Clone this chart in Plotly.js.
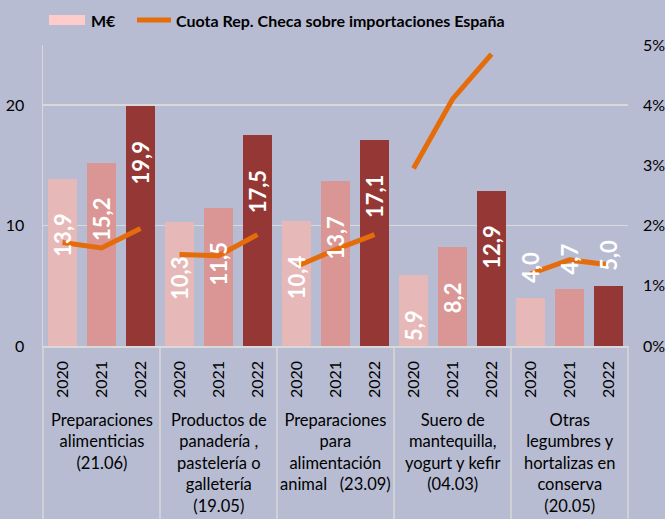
<!DOCTYPE html>
<html>
<head>
<meta charset="utf-8">
<script src="https://cdn.plot.ly/plotly-3.0.1.min.js"></script>
<style>html,body{margin:0;padding:0;background:#b7bcd2;}</style>
</head>
<body>
<div id="chart" style="width:665px;height:519px;"></div>
<script>
// ---- data ----
var groups = [
  'Preparaciones<br>alimenticias<br>(21.06)',
  'Productos de<br>panadería ,<br>pastelería o<br>galletería<br>(19.05)',
  'Preparaciones<br>para<br>alimentación<br>animal&nbsp;&nbsp;&nbsp;(23.09)',
  'Suero de<br>mantequilla,<br>yogurt y kefir<br>(04.03)',
  'Otras<br>legumbres y<br>hortalizas en<br>conserva<br>(20.05)'
];
var years = ['2020', '2021', '2022'];
var m2020 = [13.9, 10.3, 10.4, 5.9, 4.0];
var m2021 = [15.2, 11.5, 13.7, 8.2, 4.7];
var m2022 = [19.9, 17.5, 17.1, 12.9, 5.0];
// share of Czech Rep. in Spanish imports (%)
var cuota2020 = [1.72, 1.52, 1.32, 2.95, 1.20];
var cuota2021 = [1.63, 1.50, 1.60, 4.10, 1.43];
var cuota2022 = [1.95, 1.85, 1.85, 4.85, 1.35];

// ---- styling ----
var FONT = 'Lato, "Open Sans", sans-serif';
var BG = '#b7bcd2';
var barColors = ['#e6b9b8', '#d99694', '#953735'];
var ORANGE = '#e46c0a';
var GRID = '#d9d9d9';
var W = 665, H = 519, ML = 43, MR = 37, MT = 45, MB = 173;
var PW = W - ML - MR, PH = H - MT - MB;
function px(x) { return (x - ML) / PW; }
function py(y) { return (H - MB - y) / PH; }

var nG = groups.length, nY = years.length;
var series = [m2020, m2021, m2022];
var cuotas = [cuota2020, cuota2021, cuota2022];
var traces = [];
var annotations = [];

series.forEach(function (vals, yi) {
  var xs = vals.map(function (v, g) { return g * nY + yi; });
  traces.push({
    type: 'bar', x: xs, y: vals, width: 0.72,
    marker: { color: barColors[yi], line: { width: 0 } },
    showlegend: false, hoverinfo: 'y', name: years[yi]
  });
  vals.forEach(function (v, g) {
    var inside = v > 5.5;
    annotations.push({
      xref: 'x', yref: 'y', x: g * nY + yi, y: v,
      text: v.toFixed(1).replace('.', ','),
      textangle: -90, showarrow: false,
      xanchor: 'center', yanchor: inside ? 'top' : 'bottom',
      yshift: inside ? -33 : 13,
      font: { family: FONT, size: 22, color: '#ffffff', weight: 'bold' }
    });
  });
});

for (var g = 0; g < nG; g++) {
  traces.push({
    type: 'scatter', mode: 'lines', yaxis: 'y2',
    x: years.map(function (y, yi) { return g * nY + yi; }),
    y: cuotas.map(function (c) { return c[g]; }),
    line: { color: ORANGE, width: 5 },
    showlegend: false, hoverinfo: 'y'
  });
  annotations.push({
    xref: 'x', yref: 'paper', x: g * nY + 1, y: 0, yshift: -62,
    xanchor: 'center', yanchor: 'top', align: 'center',
    text: groups[g], showarrow: false,
    font: { family: FONT, size: 16.5, color: '#000000' }
  });
}

var shapes = [];
for (var k = 0; k <= nG; k++) {
  shapes.push({
    type: 'line', xref: 'paper', yref: 'paper',
    x0: k / nG, x1: k / nG, y0: 0, y1: py(H + 2),
    line: { color: GRID, width: 1.5 }
  });
}
// custom legend
shapes.push({ type: 'rect', xref: 'paper', yref: 'paper',
  x0: px(49), x1: px(85), y0: py(25), y1: py(15),
  fillcolor: '#ffcccc', line: { width: 0 } });
shapes.push({ type: 'line', xref: 'paper', yref: 'paper',
  x0: px(137), x1: px(171), y0: py(20), y1: py(20),
  line: { color: ORANGE, width: 5 } });
annotations.push({ xref: 'paper', yref: 'paper', x: px(89), y: py(20),
  xanchor: 'left', yanchor: 'middle', showarrow: false, text: 'M€',
  font: { family: FONT, size: 16, color: '#000', weight: 'bold' } });
annotations.push({ xref: 'paper', yref: 'paper', x: px(174), y: py(20),
  xanchor: 'left', yanchor: 'middle', showarrow: false,
  text: 'Cuota Rep. Checa sobre importaciones España',
  font: { family: FONT, size: 16, color: '#000', weight: 'bold' } });

var tickvals = [], ticktext = [];
for (var g2 = 0; g2 < nG; g2++) for (var yi = 0; yi < nY; yi++) {
  tickvals.push(g2 * nY + yi); ticktext.push(years[yi]);
}

var layout = {
  width: W, height: H,
  margin: { l: ML, r: MR, t: MT, b: MB, pad: 0 },
  paper_bgcolor: BG, plot_bgcolor: BG,
  font: { family: FONT, size: 16, color: '#000' },
  showlegend: false,
  bargap: 0,
  xaxis: {
    range: [-0.5, nG * nY - 0.5], tickvals: tickvals, ticktext: ticktext,
    tickangle: -90, ticks: '', ticklabelstandoff: 7,
    showgrid: false, zeroline: false,
    showline: true, linecolor: GRID, linewidth: 1.5,
    tickfont: { family: FONT, size: 16, color: '#000' }, fixedrange: true
  },
  yaxis: {
    range: [0, 25], tickvals: [0, 10, 20], ticks: '', ticklabelstandoff: 14,
    showgrid: true, gridcolor: GRID, gridwidth: 1.5,
    zeroline: false, showline: true, linecolor: GRID, linewidth: 1.5,
    tickfont: { family: FONT, size: 16, color: '#000' }, fixedrange: true
  },
  yaxis2: {
    overlaying: 'y', side: 'right', range: [0, 5],
    tickvals: [0, 1, 2, 3, 4, 5], ticktext: ['0%', '1%', '2%', '3%', '4%', '5%'],
    ticks: '', ticklabelstandoff: 14, showgrid: false, zeroline: false, showline: false,
    tickfont: { family: FONT, size: 16, color: '#000' }, fixedrange: true
  },
  shapes: shapes,
  annotations: annotations
};

Plotly.newPlot('chart', traces, layout, { staticPlot: true });
</script>
</body>
</html>
